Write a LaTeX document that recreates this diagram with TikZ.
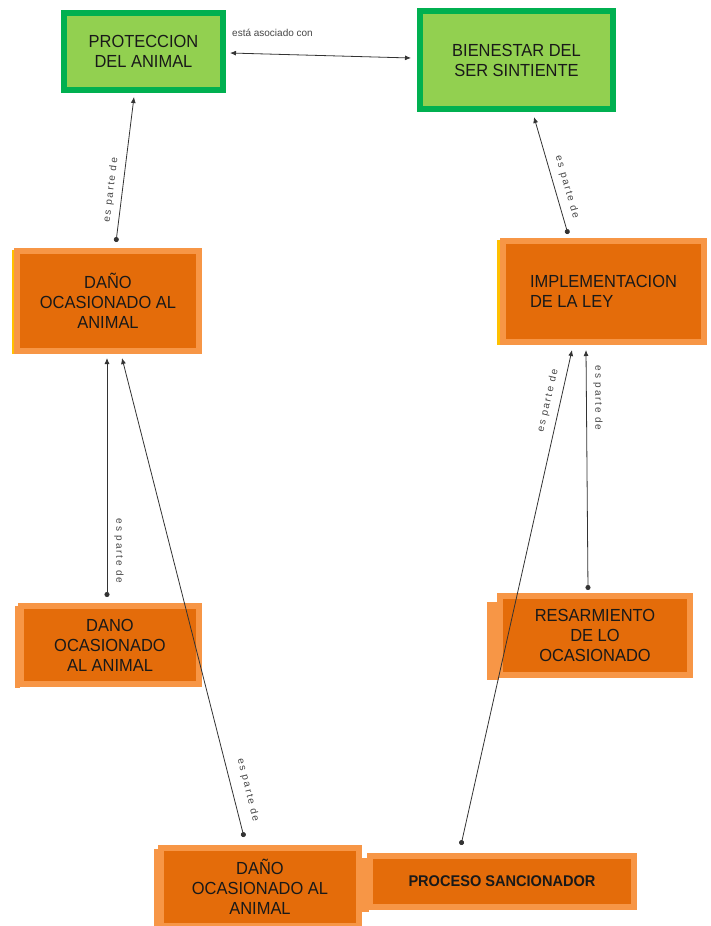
\documentclass[tikz,border=0pt]{standalone}
\usepackage{fontspec}
\usetikzlibrary{arrows.meta}
\newfontfamily\boxfont{Liberation Sans}[FakeStretch=0.94]
\newfontfamily\lblfont{Liberation Sans}[LetterSpace=18]
\newfontfamily\asocfont{Liberation Sans}
\definecolor{gborder}{HTML}{00B050}
\definecolor{gfill}{HTML}{92D050}
\definecolor{ofill}{HTML}{E46C0A}
\definecolor{oborder}{HTML}{F79646}
\definecolor{ystrip}{HTML}{FFC000}
\definecolor{lblgray}{HTML}{454545}
\tikzset{
  gbox/.style={rectangle, draw=gborder, fill=gfill, line width=6pt, outer sep=3pt,
    align=center, font=\boxfont\fontsize{17.5}{20}\selectfont, text=black!90},
  obox/.style={rectangle, draw=oborder, fill=ofill, line width=6pt, outer sep=3pt,
    align=center, font=\boxfont\fontsize{17.5}{20}\selectfont, text=black!90},
  shadowbox/.style={fill=oborder},
  strip/.style={fill=ystrip},
  conn/.style={draw=black!80, line width=0.8pt, {Latex[length=6pt,width=5pt]}-{Circle[length=5pt]}},
  biconn/.style={draw=black!80, line width=0.8pt, {Latex[length=6pt,width=5pt]}-{Latex[length=6pt,width=5pt]}},
  lbl/.style={font=\lblfont\fontsize{10}{11}\selectfont, text=lblgray, inner sep=0pt},
  asoc/.style={font=\asocfont\fontsize{10}{11}\selectfont, text=lblgray, inner sep=0pt},
}
\begin{document}
\begin{tikzpicture}[x=1pt,y=-1pt]
\useasboundingbox (0,0) rectangle (710,926);
% side strips / shadows
\fill[strip] (12,250) rectangle (17,354);
\fill[strip] (497,240) rectangle (502,345);
\fill[shadowbox] (15,606) rectangle (20,688);
\fill[shadowbox] (487,602) rectangle (499,680);
\fill[shadowbox] (154,849) rectangle (160,926);
\fill[shadowbox] (362,858) rectangle (369,912);
% boxes
\node[gbox, minimum width=159pt, minimum height=77pt] (prot) at (143.5,51.5) {PROTECCION\\DEL ANIMAL};
\node[gbox, minimum width=193pt, minimum height=98pt] (bien) at (516.5,60) {BIENESTAR DEL\\SER SINTIENTE};
\node[obox, minimum width=182pt, minimum height=100pt] (dano1) at (108,301) {DAÑO\\OCASIONADO AL\\ANIMAL};
\node[obox, minimum width=201pt, minimum height=101pt, align=left] (impl) at (603.5,291.5) {IMPLEMENTACION\\DE LA LEY};
\node[obox, minimum width=178pt, minimum height=78pt] (dano2) at (110,645) {DANO\\OCASIONADO\\AL ANIMAL};
\node[obox, minimum width=190pt, minimum height=79pt] (resar) at (595,635.5) {RESARMIENTO\\DE LO\\OCASIONADO};
\node[obox, minimum width=198pt, minimum height=78pt] (dano3) at (260,887) {DAÑO\\OCASIONADO AL\\ANIMAL};
\node[obox, minimum width=264pt, minimum height=51pt, font=\boxfont\bfseries\fontsize{15.5}{17}\selectfont] (proc) at (502,881.5) {PROCESO SANCIONADOR};
% connectors
\draw[biconn] ([xshift=4pt,yshift=-1.5pt]prot.east) -- ([xshift=-6pt,yshift=2pt]bien.west);
\draw[conn] ([xshift=-9.5pt,yshift=-4pt]prot.south) -- ([xshift=8pt,yshift=6pt]dano1.north);
\draw[conn] ([xshift=17.5pt,yshift=-5pt]bien.south) -- ([xshift=-35.5pt,yshift=4pt]impl.north);
\draw[conn] ([xshift=-1pt,yshift=-4pt]dano1.south) -- ([xshift=-3pt,yshift=6pt]dano2.north);
\draw[conn] ([xshift=14pt,yshift=-4pt]dano1.south) -- ([xshift=-16pt,yshift=8pt]dano3.north);
\draw[conn] ([xshift=-31.5pt,yshift=-5pt]impl.south) -- ([xshift=-41pt,yshift=8pt]proc.north);
\draw[conn] ([xshift=-17.5pt,yshift=-5pt]impl.south) -- ([xshift=-7pt,yshift=3pt]resar.north);
% labels
\node[asoc, anchor=west] (l3) at (232,33) {está asociado con};
\node[lbl, rotate=83] (l1) at (111,190) {es parte de};
\node[lbl, rotate=-74] (l2) at (567,187) {es parte de};
\node[lbl, rotate=-90] (l4) at (119,551) {es parte de};
\node[lbl, rotate=-76] (l5) at (248,790) {es parte de};
\node[lbl, rotate=77] (l6) at (548,401) {es parte de};
\node[lbl, rotate=-90] (l7) at (598,398) {es parte de};
\end{tikzpicture}
\end{document}
